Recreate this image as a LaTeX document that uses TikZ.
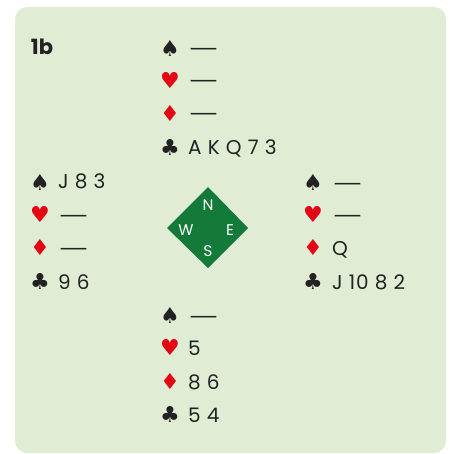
\documentclass[tikz,border=0pt]{standalone}
\usepackage{fontspec}
\usepackage{graphicx}
\setmainfont{Poppins}[LetterSpace=4]
\newfontfamily\suitfont{DejaVu Sans}
\newfontfamily\boldfont{Poppins}
\definecolor{panel}{HTML}{E0ECD4}
\definecolor{compass}{HTML}{137A3A}
\definecolor{suitred}{HTML}{E30613}
\definecolor{ink}{HTML}{222222}
\newcommand{\nodash}{\scalebox{1.75}[1]{—}}
\begin{document}
\begin{tikzpicture}[x=1pt,y=-1pt,
  suit/.style={font=\suitfont\fontsize{22}{22}\selectfont, inner sep=0pt, anchor=center},
  blk/.style={suit, text=ink},
  rd/.style={suit, text=suitred},
  card/.style={font=\fontsize{20}{20}\selectfont, text=ink, inner sep=0pt, anchor=base west},
  dir/.style={font=\fontsize{15.5}{15.5}\selectfont, text=white, inner sep=0pt}]
\useasboundingbox (0,0) rectangle (449,454);
\fill[panel, rounded corners=12pt] (15,7) rectangle (446,453);
\node[font=\boldfont\bfseries\fontsize{21}{21}\selectfont, text=ink, inner sep=0pt, anchor=base] (lbl) at (42,55) {1b};
% North
\node[blk] (ns) at (170,48) {♠}; \node[card] (nst) at (188,57) {\nodash};
\node[rd]  (nh) at (170,80) {♥}; \node[card] (nht) at (188,89) {\nodash};
\node[rd]  (nd) at (170,113) {♦}; \node[card] (ndt) at (188,122) {\nodash};
\node[blk] (nc) at (170,147) {♣}; \node[card] (nct) at (188,155) {A K Q 7 3};
% West
\node[blk] (ws) at (40,182) {♠}; \node[card] (wst) at (58,189) {J 8 3};
\node[rd]  (wh) at (40,214) {♥}; \node[card] (wht) at (58,223) {\nodash};
\node[rd]  (wd) at (40,247) {♦}; \node[card] (wdt) at (58,256) {\nodash};
\node[blk] (wc) at (40,281) {♣}; \node[card] (wct) at (58,289) {9 6};
% East
\node[blk] (es) at (313,182) {♠}; \node[card] (est) at (332,191) {\nodash};
\node[rd]  (eh) at (313,214) {♥}; \node[card] (eht) at (332,223) {\nodash};
\node[rd]  (ed) at (313,247) {♦}; \node[card] (edt) at (332,255) {Q};
\node[blk] (ec) at (313,281) {♣}; \node[card] (ect) at (332,289) {J 10 8 2};
% South
\node[blk] (ss) at (170,315) {♠}; \node[card] (sst) at (188,324) {\nodash};
\node[rd]  (sh) at (170,347) {♥}; \node[card] (sht) at (188,355) {5};
\node[rd]  (sd) at (170,381) {♦}; \node[card] (sdt) at (188,389) {8 6};
\node[blk] (sc) at (170,414) {♣}; \node[card] (sct) at (188,422) {5 4};
% compass
\fill[compass] (208,187) -- (248,228) -- (208,268) -- (167,228) -- cycle;
\node[dir] (cn) at (208,205) {N};
\node[dir] (cs) at (208,251) {S};
\node[dir] (cw) at (186,230) {W};
\node[dir] (ce) at (230,230) {E};
\end{tikzpicture}
\end{document}
